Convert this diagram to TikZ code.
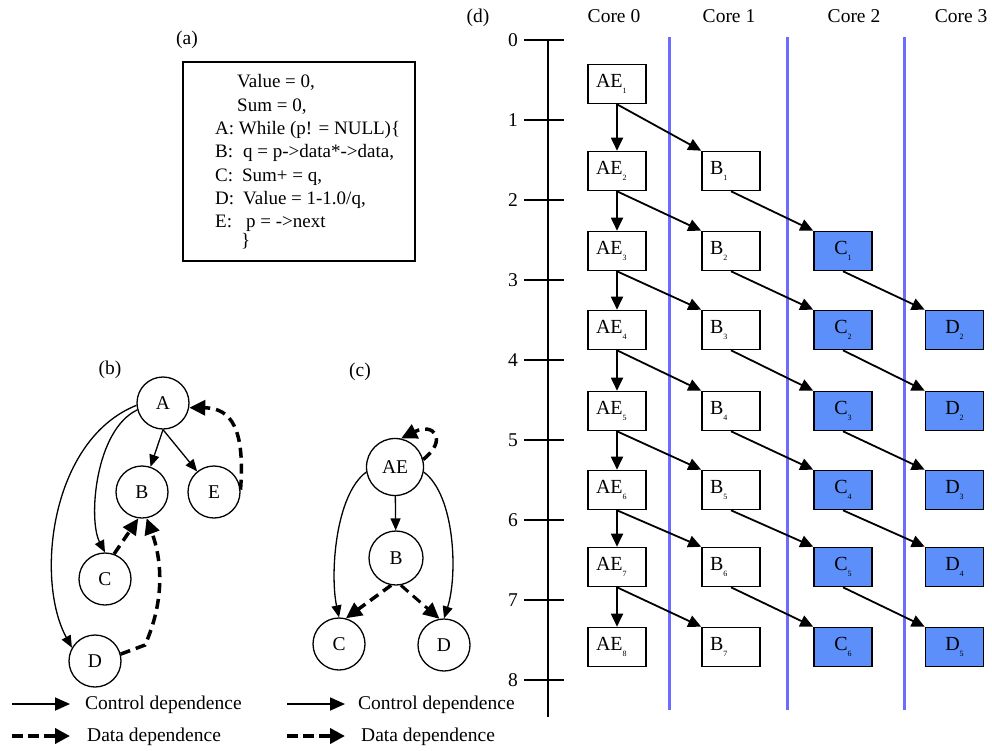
\documentclass[tikz,border=0pt]{standalone}
\usepackage{fontspec}
\setmainfont{Liberation Serif}
\usetikzlibrary{arrows.meta}
\definecolor{cfill}{RGB}{92,143,250}
\definecolor{cline}{RGB}{108,108,255}
\newcommand\subi[1]{\raisebox{-0.3em}{\fontsize{8}{8}\selectfont #1}}
\begin{document}
\begin{tikzpicture}[x=1pt,y=-1pt,font=\fontsize{19.5}{22}\selectfont,
  circ/.style={draw,circle,line width=1.3pt,minimum size=52pt,inner sep=0pt},
  ctrl/.style={line width=1.3pt,-{Triangle[length=12pt,width=10pt]}},
  dataarr/.style={line width=3.5pt,dash pattern=on 10pt off 6pt,-{Triangle[length=16pt,width=15pt]}},
  lbox/.style={draw,line width=1.6pt,text width=42pt,align=left,inner xsep=8pt,inner ysep=0pt,minimum height=39pt,font=\fontsize{20}{22}\selectfont},
  cbox/.style={draw,line width=1.6pt,fill=cfill,minimum width=58pt,minimum height=39pt,inner sep=0pt,font=\fontsize{20}{22}\selectfont},
  tl/.style={line width=1.8pt,-{Triangle[length=13pt,width=12pt]}},
  coreline/.style={cline,line width=3pt},
  codeline/.style={anchor=base west,inner sep=0pt,font=\fontsize{19}{22}\selectfont},
  lgtext/.style={anchor=west,inner sep=0pt}]
\useasboundingbox (0,0) rectangle (992,750);

% ---------- (a) ----------
\node at (187,40) {(a)};
\node[draw,line width=1.5pt,minimum width=232pt,minimum height=199pt] (code) at (299,161.5) {};
\node[codeline] (l1) at (237,87) {Value = 0,};
\node[codeline] (l2) at (237,111) {Sum = 0,};
\node[codeline] (l3) at (215,134) {A: While (p! = NULL)\{};
\node[codeline] (l4) at (215,157) {B:\hspace{10pt}q = p->data*->data,};
\node[codeline] (l5) at (215,181) {C:\hspace{9pt}Sum+ = q,};
\node[codeline] (l6) at (215,204) {D:\hspace{9pt}Value = 1-1.0/q,};
\node[codeline] (l7) at (215,227) {E:\hspace{14pt}p = ->next};
\node[codeline] (l8) at (241,246) {\}};

% ---------- (b) ----------
\node at (110,370) {(b)};
\node[circ] (A) at (163,403) {A};
\node[circ] (B) at (142,492) {B};
\node[circ] (E) at (214,492) {E};
\node[circ] (C) at (105,579) {C};
\node[circ] (D) at (95,661) {D};
\draw[ctrl] (A.south) -- (B);
\draw[ctrl] (A.south) -- (E);
\draw[ctrl] (A.195) .. controls (95,430) and (88,520) .. (C.north);
\draw[ctrl] (A.185) .. controls (50,440) and (35,580) .. (D.150);
\draw[dataarr] (E.5) .. controls (245,430) and (232,408) .. (A.-10);
\draw[dataarr] (C.70) -- (B.262);
\draw[dataarr] (D.15) -- (145,645) .. controls (165,600) and (162,560) .. (B.-80);

% ---------- (c) ----------
\node at (360,372) {(c)};
\node[circ,minimum size=57pt] (cAE) at (395,467) {AE};
\node[circ,minimum size=54pt] (cB) at (396,558) {B};
\node[circ] (cC) at (339,644) {C};
\node[circ] (cD) at (444,645) {D};
\draw[ctrl] (cAE) -- (cB);
\draw[ctrl] (cAE.190) .. controls (335,495) and (330,575) .. (cC.north);
\draw[ctrl] (cAE.-10) .. controls (455,495) and (458,575) .. (cD.north);
\draw[dataarr] (cAE.15) .. controls (448,440) and (434,422) .. (cAE.78);
\draw[dataarr] (cB.-100) -- (cC.75);
\draw[dataarr,line width=3pt] (cB.-80) -- (cD.100);

% ---------- legend ----------
\coordinate (lg1s) at (12,704); \coordinate (lg1e) at (70,704);
\coordinate (lg2s) at (12,736); \coordinate (lg2e) at (70,736);
\coordinate (lg3s) at (287,704); \coordinate (lg3e) at (345,704);
\coordinate (lg4s) at (287,736); \coordinate (lg4e) at (345,736);
\draw[line width=1.8pt,-{Triangle[length=15pt,width=13pt]}] (lg1s) -- (lg1e);
\draw[line width=4pt,dash pattern=on 11pt off 5pt,-{Triangle[length=15pt,width=15pt]}] (lg2s) -- (lg2e);
\draw[line width=1.8pt,-{Triangle[length=15pt,width=13pt]}] (lg3s) -- (lg3e);
\draw[line width=4pt,dash pattern=on 11pt off 5pt,-{Triangle[length=15pt,width=15pt]}] (lg4s) -- (lg4e);
\node[lgtext] (t1) at (85,705) {Control dependence};
\node[lgtext] (t2) at (87,737) {Data dependence};
\node[lgtext] (t3) at (358,705) {Control dependence};
\node[lgtext] (t4) at (361,737) {Data dependence};

% ---------- (d) ----------
\node at (478,18) {(d)};
\node (core0) at (614,16) {Core 0};
\node (core1) at (729,16) {Core 1};
\node (core2) at (854,16) {Core 2};
\node (core3) at (961,16) {Core 3};
\foreach \x in {669,787,904} \draw[coreline] (\x,37) -- (\x,710);
\draw[line width=1.8pt] (548,40) -- (548,717);
\foreach \k in {0,...,8} {
  \draw[line width=1.8pt] (524,40+80*\k) -- (564,40+80*\k);
  \node[anchor=east,inner sep=0pt] at (518,40+80*\k) {\k};
}
% boxes
\foreach \k/\y in {1/84,2/171,3/251,4/330,5/411,6/490,7/567,8/647}
  \node[lbox] (AE\k) at (617,\y) {AE\subi{\k}};
\foreach \k/\y in {1/171,2/251,3/330,4/411,5/490,6/567,7/647}
  \node[lbox] (B\k) at (731,\y) {B\subi{\k}};
\foreach \k/\y in {1/251,2/330,3/411,4/490,5/567,6/647}
  \node[cbox] (C\k) at (843,\y) {C\subi{\k}};
\foreach \r/\l/\y in {4/2/330,5/2/411,6/3/490,7/4/567,8/5/647}
  \node[cbox] (D\r) at (954.5,\y) {D\subi{\l}};
% arrows
\foreach \k [evaluate=\k as \n using int(\k+1)] in {1,...,7} {
  \draw[tl] (AE\k.south) -- (AE\n.north);
  \draw[tl] (AE\k.south) -- (B\k.north west);
}
\foreach \k in {1,...,6} \draw[tl] (B\k.south) -- (C\k.north west);
\foreach \k [evaluate=\k as \r using int(\k+3)] in {1,...,5} \draw[tl] (C\k.south) -- (D\r.north west);
\end{tikzpicture}
\end{document}
